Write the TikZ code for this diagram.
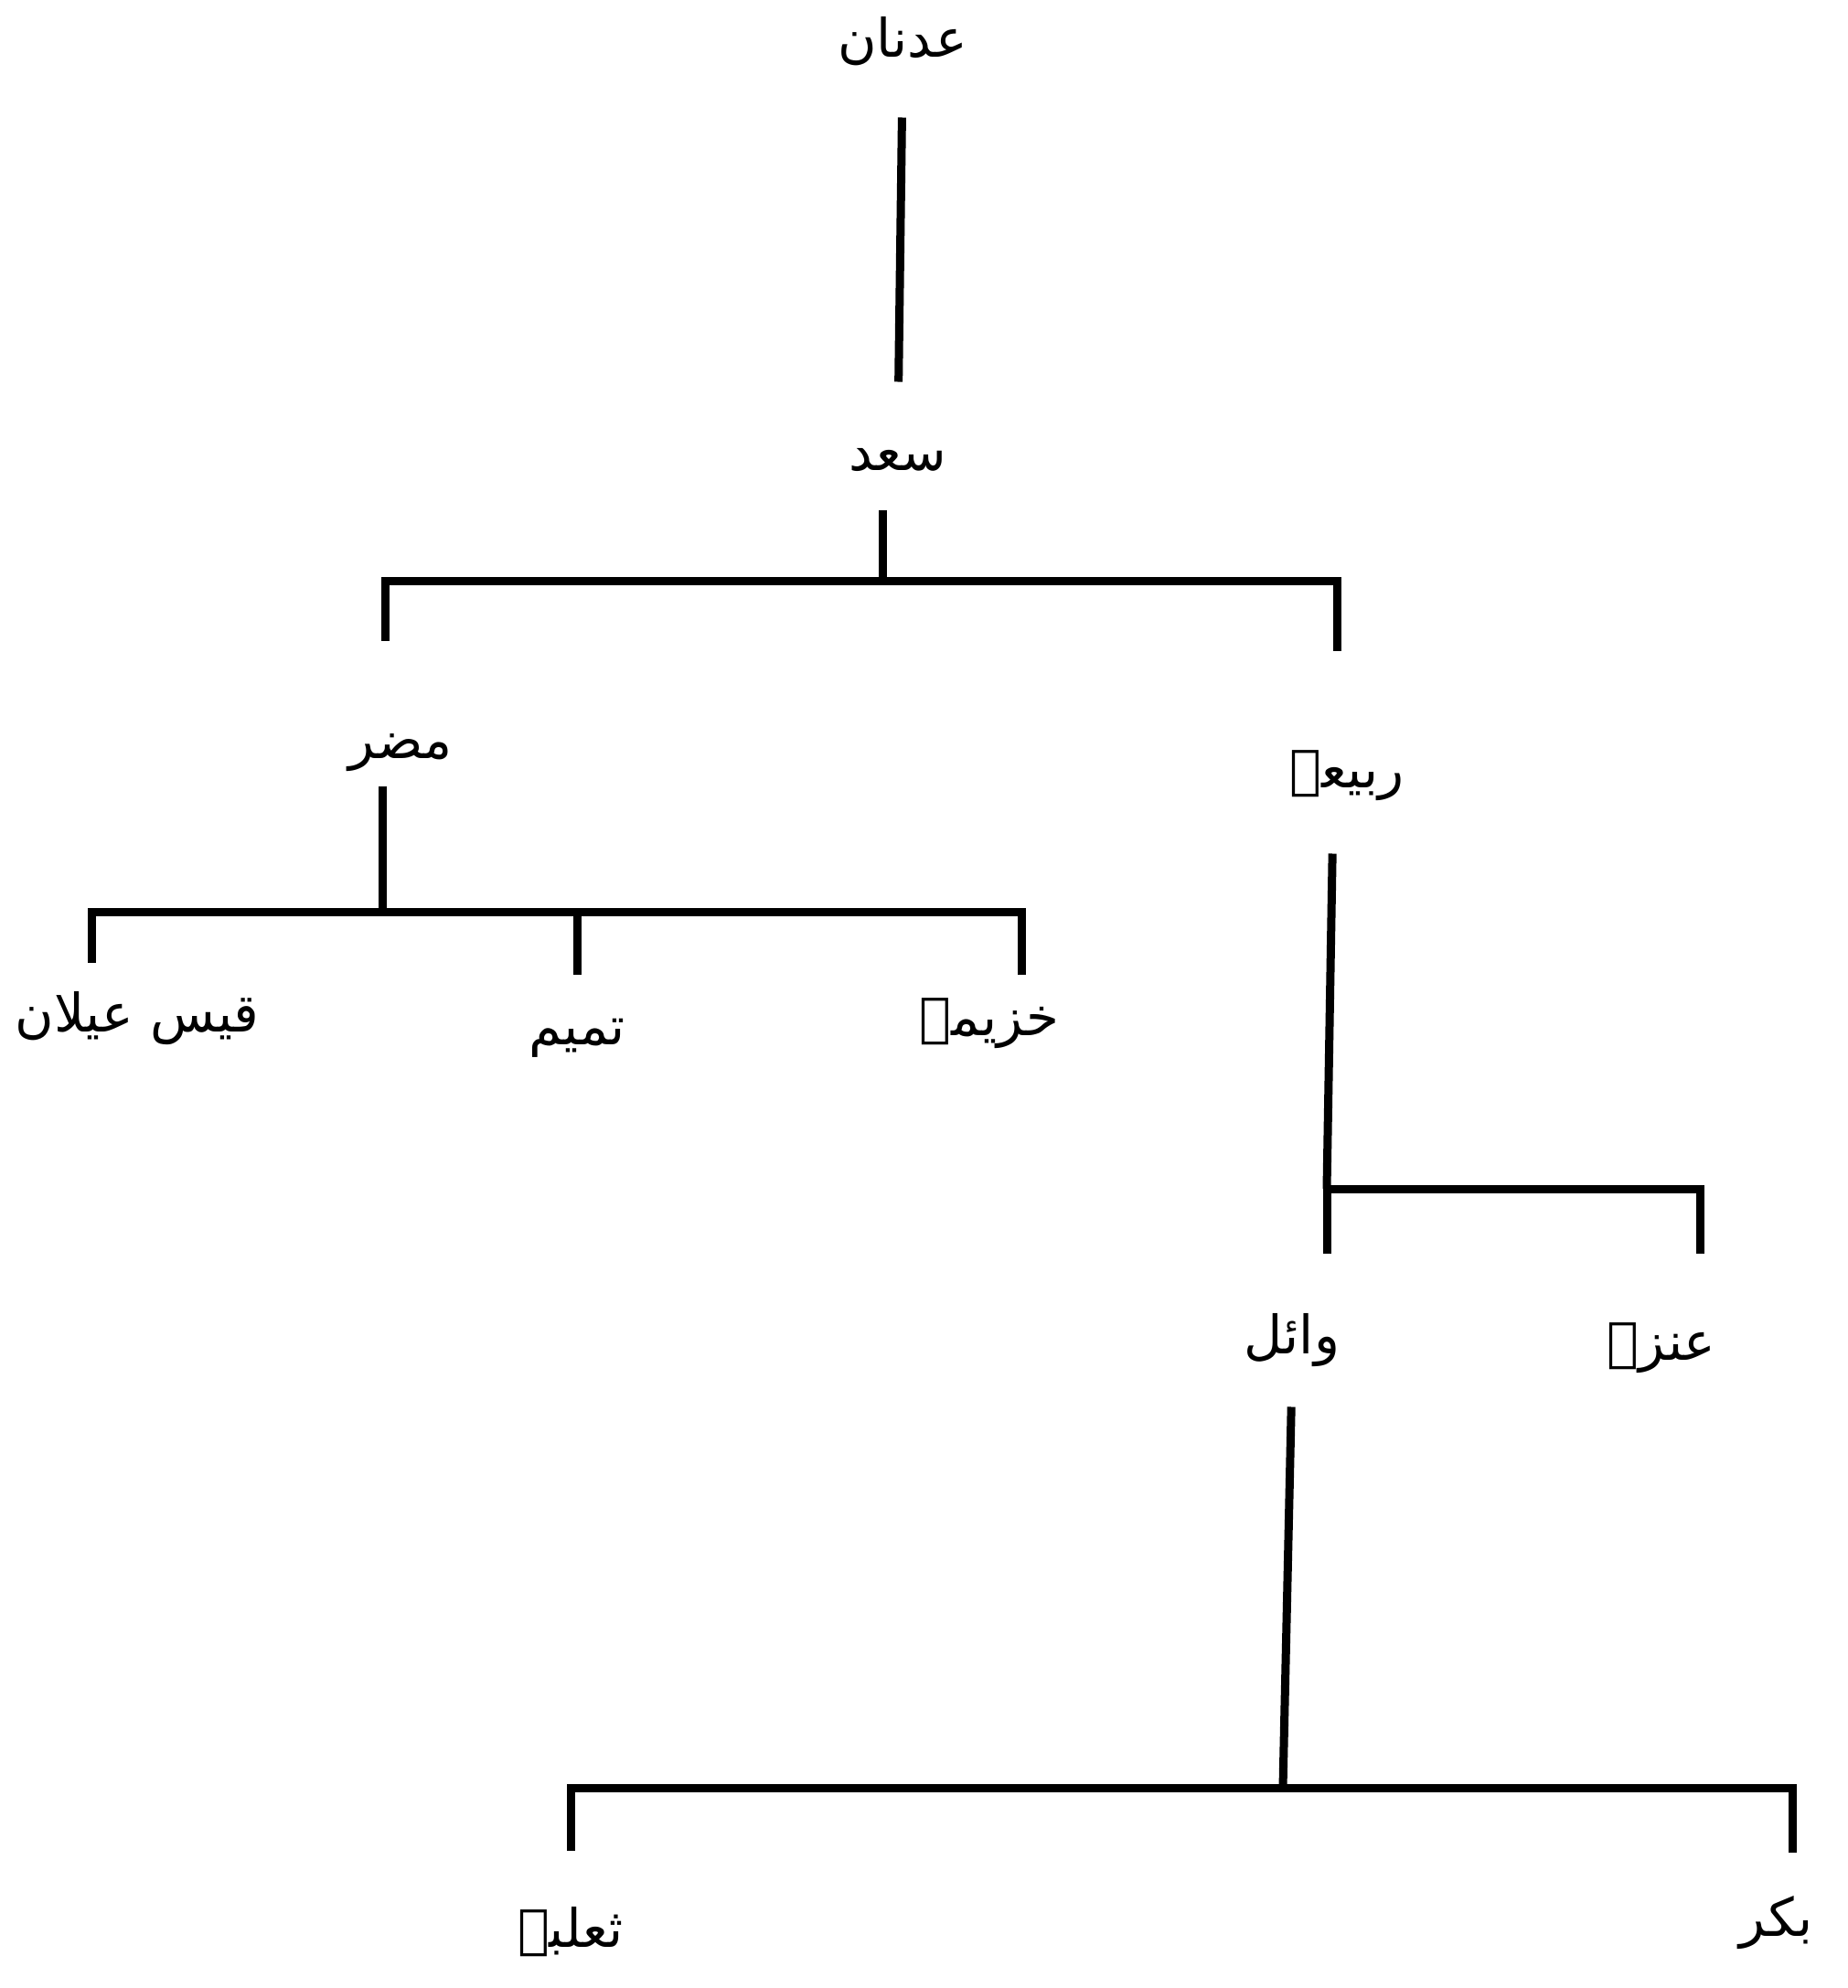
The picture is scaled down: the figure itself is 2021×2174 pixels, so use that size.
\documentclass[tikz,border=0pt]{standalone}
\usepackage{fontspec}
\usepackage{tikz}
\newfontfamily\arabicfont[Script=Arabic]{DejaVu Sans}
\TeXXeTstate=1

\begin{document}
\begin{tikzpicture}[x=1pt, y=-1pt,
        tribe/.style={inner sep=0pt, text height=42pt, text depth=18pt, font=\arabicfont\fontsize{58}{60}\selectfont},
        every path/.style={line width=9pt}]
        \useasboundingbox (0,0) rectangle (2021,2174);

        % Names
        \node[tribe] (adnan) at (987, 50) {\beginR عدنان\endR};
        \node[tribe] (saad) at (982, 502) {\beginR سعد\endR};
        \node[tribe] (mudar) at (438, 817) {\beginR مضر\endR};
        \node[tribe] (rabia) at (1473, 849) {\beginR ربیعہ\endR};
        \node[tribe] (qays) at (150, 1116) {\beginR قیس عیلان\endR};
        \node[tribe] (tamim) at (631, 1130) {\beginR تمیم\endR};
        \node[tribe] (khuzaima) at (1082, 1120) {\beginR خزیمہ\endR};
        \node[tribe] (wail) at (1413, 1468) {\beginR وائل\endR};
        \node[tribe] (anza) at (1817, 1475) {\beginR عنزہ\endR};
        \node[tribe] (thalaba) at (624, 2117) {\beginR ثعلبہ\endR};
        \node[tribe] (bakr) at (1943, 2105) {\beginR بکر\endR};

        % Branch points
        \coordinate (b1) at (965, 635);
        \coordinate (b2) at (418, 997);
        \coordinate (b3) at (1451, 1300);
        \coordinate (b4) at (1403, 1955);

        % Lines
        \draw[shorten <=44pt, shorten >=50pt] (adnan.south) -- (saad.north);
        \draw[shorten <=21pt] (saad.south -| b1) -- (b1);
        \draw[shorten <=82pt, shorten >=103pt] ([xshift=-17pt]mudar.north) |- (b1) -| ([xshift=-11pt]rabia.north);

        \draw[shorten <=8pt] (mudar.south -| b2) -- (b2);
        \draw[shorten <=29pt, shorten >=20pt] ([xshift=-50pt]qays.north) |- (b2) -| ([xshift=35pt]khuzaima.north);
        \draw[shorten >=30pt] (tamim.north |- b2) -- (tamim.north);

        \draw[shorten <=50pt] ([xshift=-15pt]rabia.south) -- (b3);
        \draw[shorten <=63pt, shorten >=70pt] ([xshift=38pt]wail.north) |- (b3) -| ([xshift=42pt]anza.north);

        \draw[shorten <=36pt] (wail.south) -- (b4);
        \draw[shorten <=59pt, shorten >=45pt] (thalaba.north) |- (b4) -| ([xshift=17pt]bakr.north);

\end{tikzpicture}
\end{document}
